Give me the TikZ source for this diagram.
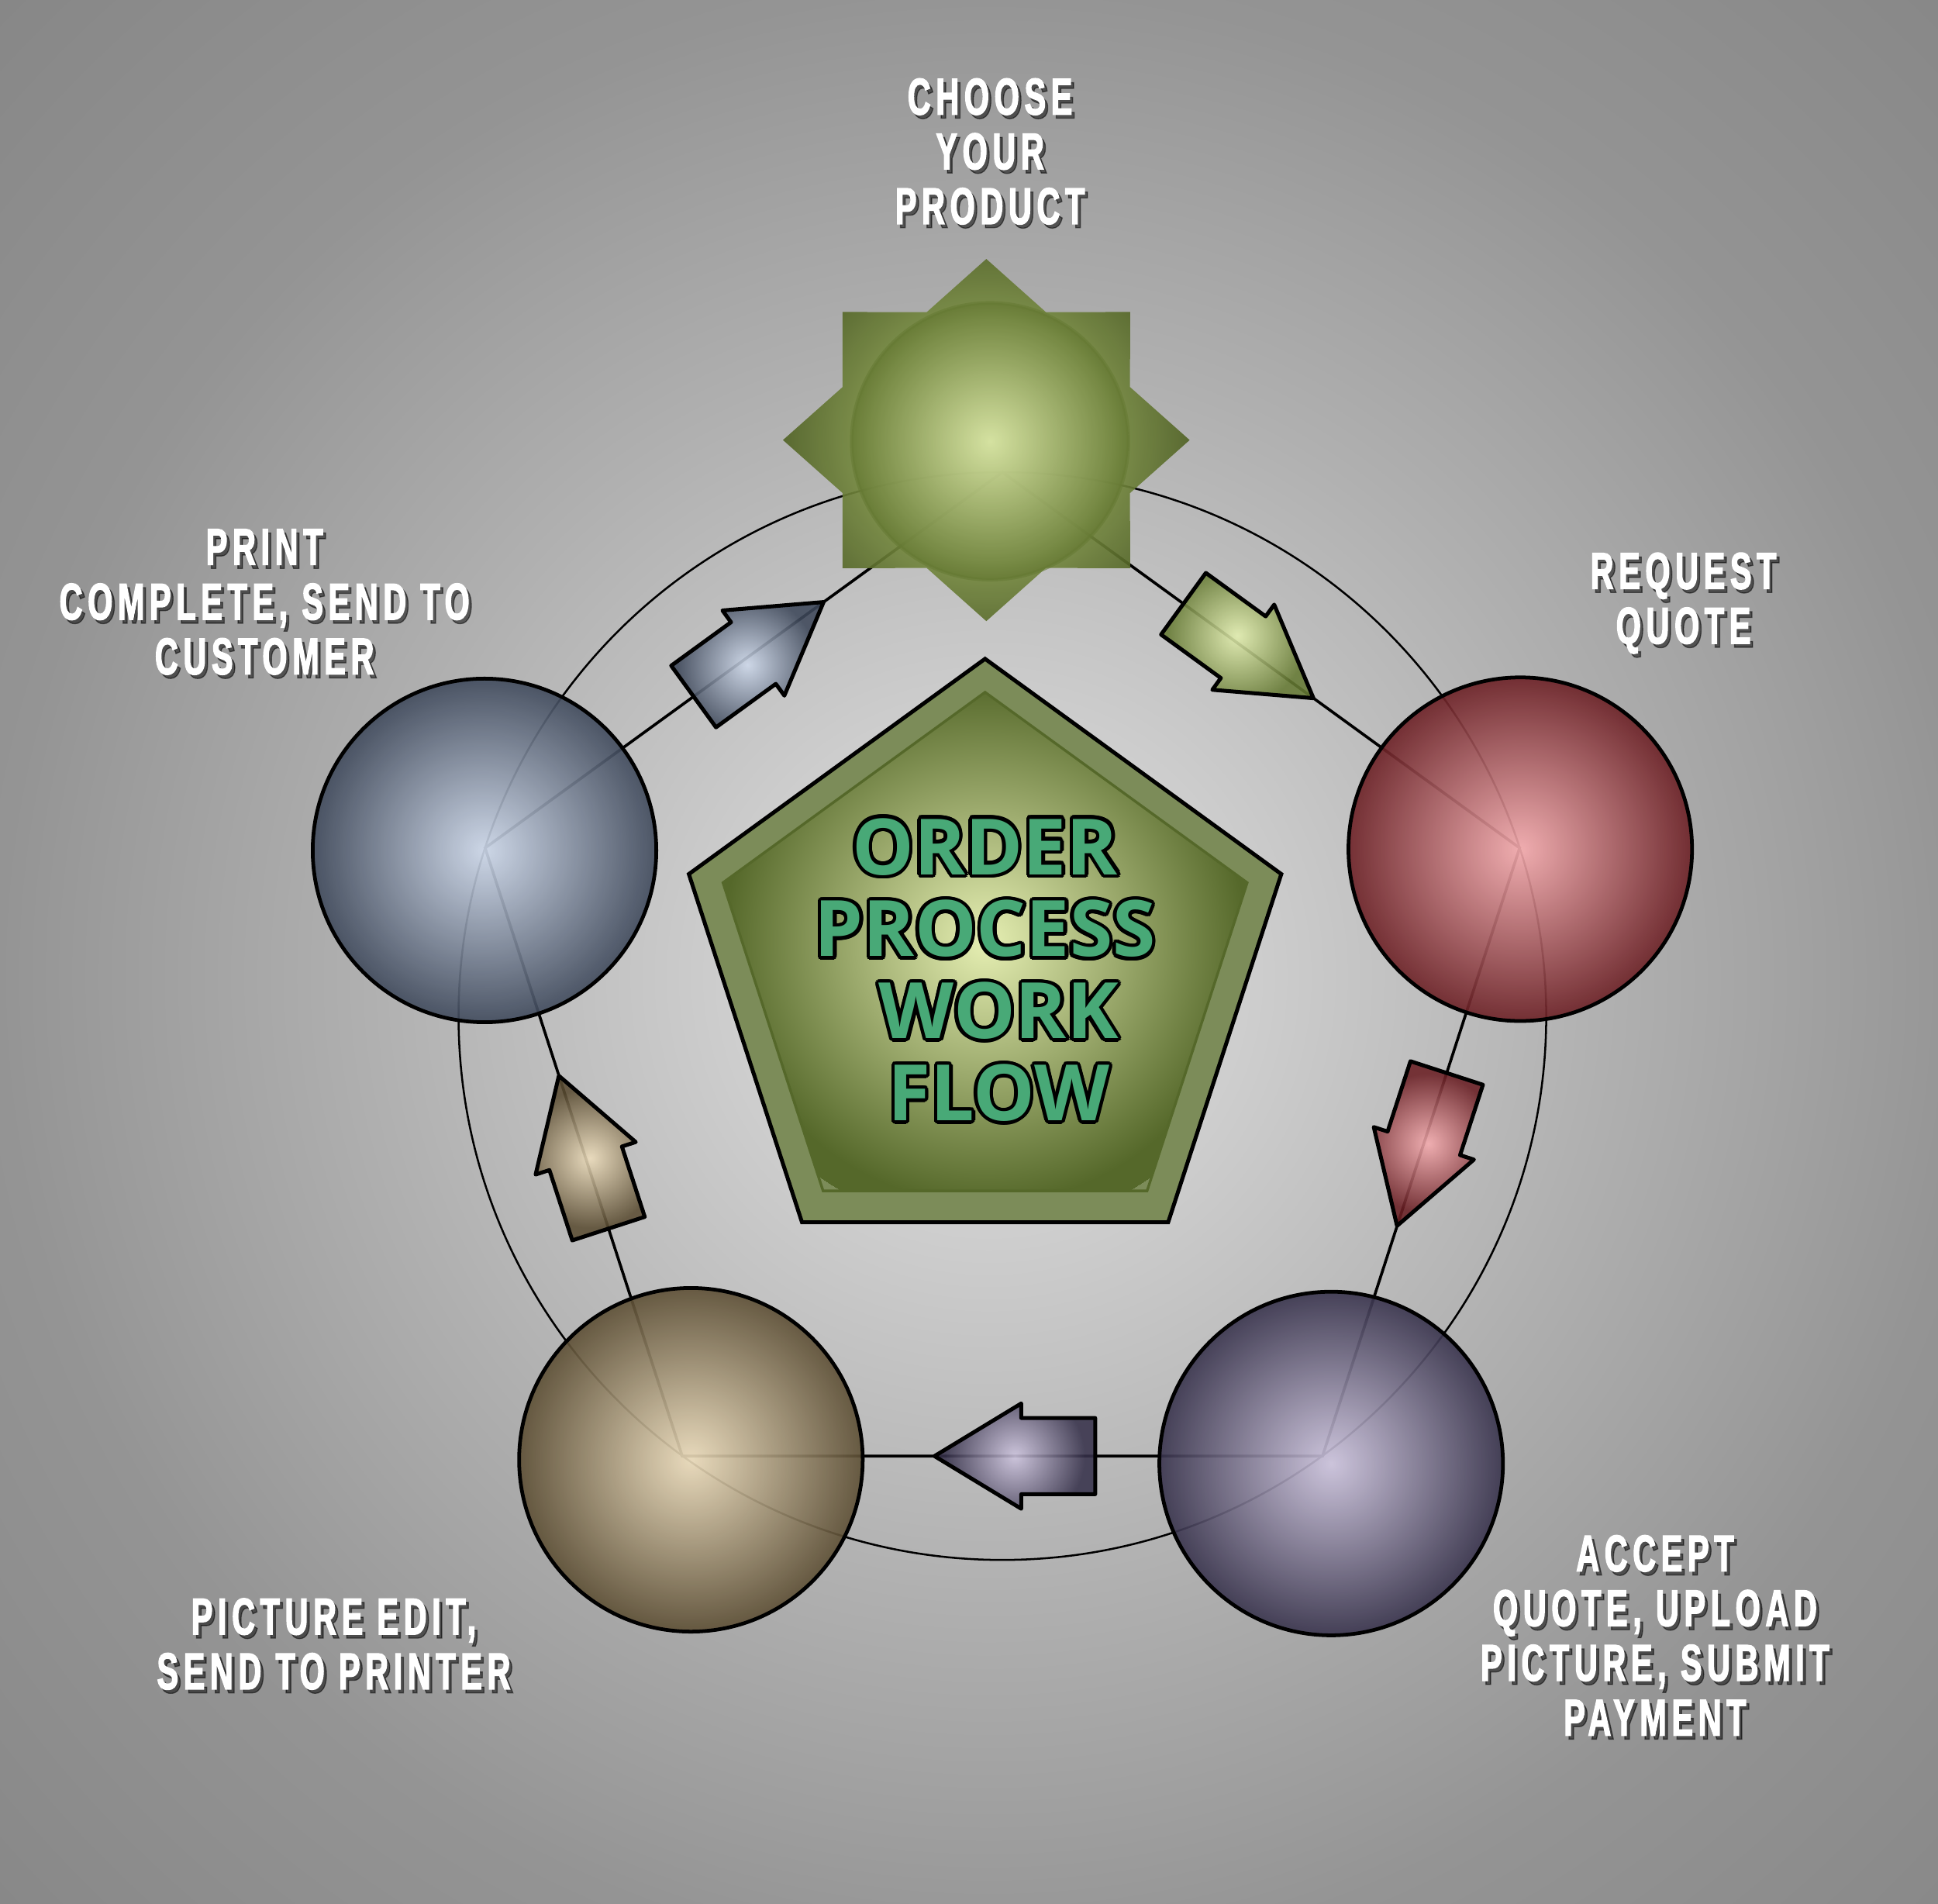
\documentclass[tikz,border=0pt]{standalone}
\usepackage{fontspec}
\usepackage{contour}
\usetikzlibrary{calc,shapes.geometric,shapes.arrows}

\newfontfamily\tagfont[FakeStretch=0.62,LetterSpace=10,FakeBold=2]{Liberation Sans}
\newfontfamily\hubfont{Open Sans}
\contourlength{0.8pt}

\definecolor{bgA}{HTML}{D4D4D4}
\definecolor{bgB}{HTML}{B0B0B0}
\definecolor{bgC}{HTML}{949494}
\definecolor{bgD}{HTML}{868686}
\definecolor{blueL}{HTML}{CFDAEC}
\definecolor{blueD}{HTML}{3E485A}
\definecolor{redL}{HTML}{F6ACAF}
\definecolor{redD}{HTML}{6A1F24}
\definecolor{purpL}{HTML}{CFC6E0}
\definecolor{purpD}{HTML}{37324B}
\definecolor{tanL}{HTML}{EEDEBD}
\definecolor{tanD}{HTML}{5B4D33}
\definecolor{grnL}{HTML}{E4F0B0}
\definecolor{grnD}{HTML}{667A34}
\definecolor{starL}{HTML}{7A8E42}
\definecolor{starD}{HTML}{4F6123}
\definecolor{hubL}{HTML}{E6EFB3}
\definecolor{hubD}{HTML}{55682A}
\definecolor{rimC}{HTML}{7C8C59}
\definecolor{hubtext}{HTML}{48A977}

% shadings at their natural size (1cm = 28.35bp)
\pgfdeclareradialshading{backdrop}{\pgfpoint{0bp}{0bp}}{color(0bp)=(bgA); color(42bp)=(bgA); color(142bp)=(bgB); color(227bp)=(bgC); color(325bp)=(bgD)}
\pgfdeclareradialshading{blueball}{\pgfpoint{0bp}{0bp}}{color(0bp)=(blueL); color(40bp)=(blueD); color(42bp)=(blueD)}
\pgfdeclareradialshading{redball}{\pgfpoint{0bp}{0bp}}{color(0bp)=(redL); color(40bp)=(redD); color(42bp)=(redD)}
\pgfdeclareradialshading{purpball}{\pgfpoint{0bp}{0bp}}{color(0bp)=(purpL); color(40bp)=(purpD); color(42bp)=(purpD)}
\pgfdeclareradialshading{tanball}{\pgfpoint{0bp}{0bp}}{color(0bp)=(tanL); color(40bp)=(tanD); color(42bp)=(tanD)}
\pgfdeclareradialshading{grnball}{\pgfpoint{0bp}{0bp}}{color(0bp)=(grnL); color(32bp)=(grnD); color(34bp)=(grnD)}
\pgfdeclareradialshading{bluearr}{\pgfpoint{0bp}{0bp}}{color(0bp)=(blueL); color(16bp)=(blueD); color(40bp)=(blueD)}
\pgfdeclareradialshading{redarr}{\pgfpoint{0bp}{0bp}}{color(0bp)=(redL); color(16bp)=(redD); color(40bp)=(redD)}
\pgfdeclareradialshading{purparr}{\pgfpoint{0bp}{0bp}}{color(0bp)=(purpL); color(16bp)=(purpD); color(40bp)=(purpD)}
\pgfdeclareradialshading{tanarr}{\pgfpoint{0bp}{0bp}}{color(0bp)=(tanL); color(16bp)=(tanD); color(40bp)=(tanD)}
\pgfdeclareradialshading{grnarr}{\pgfpoint{0bp}{0bp}}{color(0bp)=(grnL); color(16bp)=(grnD); color(40bp)=(grnD)}
\pgfdeclareradialshading{starshade}{\pgfpoint{0bp}{0bp}}{color(0bp)=(starL); color(28bp)=(starL); color(47bp)=(starD); color(50bp)=(starD)}
\pgfdeclareradialshading{hubshade}{\pgfpoint{0bp}{0bp}}{color(0bp)=(hubL); color(60bp)=(hubD); color(66bp)=(hubD)}

\begin{document}
\begin{tikzpicture}[
        ring/.style={line width=0.45pt},
        link/.style={line width=0.65pt},
        shadeby/.style={path picture={\pgfsetfillopacity{#1}%
            \pgftext[at=\pgfpointanchor{path picture bounding box}{center}]{\pgfuseshading{\shadename}}}},
        ball/.style={circle,draw=black,line width=0.85pt,minimum size=2.78cm,inner sep=0pt},
        flowarrow/.style={single arrow,single arrow tip angle=62.5,single arrow head extend=0.1175cm,
            single arrow head indent=0pt,minimum height=1.30cm,minimum width=0.82cm,inner xsep=0pt,inner ysep=0.2925cm,
            draw=black,line width=0.9pt,line join=round,anchor=tail},
        tag/.style={text=white,align=center,font=\tagfont\bfseries\fontsize{11.9}{12.6}\selectfont},
        tagshadow/.style={tag,text=black,text opacity=0.5}
    ]
        \useasboundingbox (0,0) rectangle (15.68,-15.40);
        \begin{scope}
            \clip (0,0) rectangle (15.68,-15.40);
            \node[inner sep=0pt] (back) at (8.0,-7.9) {\pgfuseshading{backdrop}};
        \end{scope}

        % ring and the five links
        \coordinate (hub0) at (8.11,-8.22);
        \coordinate (v1) at (8.11,-3.82);
        \coordinate (v2) at (12.295,-6.86);
        \coordinate (v3) at (10.70,-11.78);
        \coordinate (v4) at (5.52,-11.78);
        \coordinate (v5) at (3.925,-6.86);

        \draw[ring] (hub0) circle (4.40);
        \draw[link] (v1) -- (v2) -- (v3) -- (v4) -- (v5) -- cycle;

        % star behind the first step
        \def\shadename{starshade}
        \path[shadeby=0.9,shift={(7.98,-3.56)}]
            (0:1.645 and 1.465)
            foreach \a in {45,90,...,315} { -- (\a-22.5:1.2585 and 1.1207) -- (\a:1.645 and 1.465) }
            -- (337.5:1.2585 and 1.1207) -- cycle;
        \def\shadename{grnball}
        \node[circle,minimum size=2.24cm,inner sep=0pt,shadeby=0.85,draw=grnD,line width=0.8pt,draw opacity=0.6] (choose) at (8.01,-3.57) {};

        \def\shadename{blueball}
        \node[ball,shadeby=0.9] (ship) at (3.92,-6.88) {};
        \def\shadename{redball}
        \node[ball,shadeby=0.9] (quote) at (12.30,-6.87) {};
        \def\shadename{purpball}
        \node[ball,shadeby=0.9] (pay) at (10.77,-11.84) {};
        \def\shadename{tanball}
        \node[ball,shadeby=0.9] (edit) at (5.59,-11.81) {};

        \def\shadename{grnarr}
        \node[flowarrow,shadeby=0.88,rotate=-36] (a1) at ($(v1)!0.347!(v2)$) {};
        \def\shadename{redarr}
        \node[flowarrow,shadeby=0.88,rotate=-108] (a2) at ($(v2)!0.367!(v3)$) {};
        \def\shadename{purparr}
        \node[flowarrow,shadeby=0.88,rotate=180] (a3) at ($(v3)!0.352!(v4)$) {};
        \def\shadename{tanarr}
        \node[flowarrow,shadeby=0.88,rotate=108] (a4) at ($(v4)!0.371!(v5)$) {};
        \def\shadename{bluearr}
        \node[flowarrow,shadeby=0.88,rotate=36] (a5) at ($(v5)!0.40!(v1)$) {};

        % centre pentagon
        \node[regular polygon,regular polygon sides=5,minimum size=5.04cm,inner sep=0pt,
            draw=black,line width=0.9pt,fill=rimC] (rim) at (7.97,-7.85) {};
        \def\shadename{hubshade}
        \node[regular polygon,regular polygon sides=5,minimum size=4.46cm,inner sep=0pt,
            shadeby=1,draw=hubD,line width=0.6pt] (hub) at (7.97,-7.83) {};
        \node[text=hubtext,align=center,font=\hubfont\bfseries\fontsize{17.9}{18.9}\selectfont] (title) at (7.97,-7.86)
            {\contour{black}{ORDER}\\\contour{black}{PROCESS}\\\hspace*{0.22cm}\contour{black}{WORK}\\\hspace*{0.22cm}\contour{black}{FLOW}};

        % step labels
        \node[tagshadow] (t1s) at (8.035,-1.255) {CHOOSE\\YOUR\\PRODUCT};
        \node[tag] (t1) at (8.01,-1.225) {CHOOSE\\YOUR\\PRODUCT};
        \node[tagshadow] (t2s) at (13.645,-4.91) {REQUEST\\QUOTE};
        \node[tag] (t2) at (13.62,-4.88) {REQUEST\\QUOTE};
        \node[tagshadow] (t3s) at (13.415,-13.26) {ACCEPT\\QUOTE, UPLOAD\\PICTURE, SUBMIT\\PAYMENT};
        \node[tag] (t3) at (13.39,-13.23) {ACCEPT\\QUOTE, UPLOAD\\PICTURE, SUBMIT\\PAYMENT};
        \node[tagshadow] (t4s) at (2.725,-13.33) {PICTURE EDIT,\\SEND TO PRINTER};
        \node[tag] (t4) at (2.70,-13.30) {PICTURE EDIT,\\SEND TO PRINTER};
        \node[tagshadow] (t5s) at (2.165,-4.90) {PRINT\\COMPLETE, SEND TO\\CUSTOMER};
        \node[tag] (t5) at (2.14,-4.87) {PRINT\\COMPLETE, SEND TO\\CUSTOMER};
    \end{tikzpicture}
\end{document}
